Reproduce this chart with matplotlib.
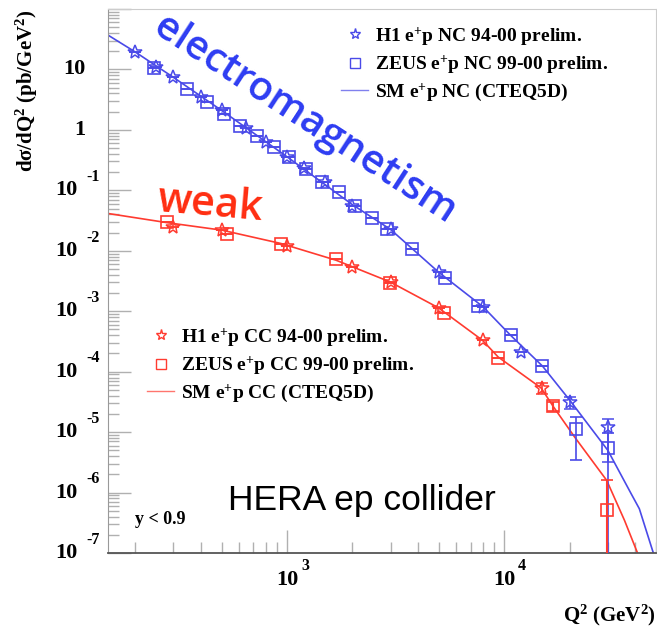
import numpy as np
import matplotlib
matplotlib.use("Agg")
import matplotlib.pyplot as plt
from matplotlib.lines import Line2D
from matplotlib.ticker import LogLocator, NullFormatter

plt.rcParams["mathtext.fontset"] = "custom"
plt.rcParams["mathtext.rm"] = "Liberation Serif:bold"
plt.rcParams["mathtext.bf"] = "Liberation Serif:bold"
plt.rcParams["mathtext.it"] = "Liberation Serif:bold"

# ==============================
# Data
# ==============================
# neutral current, H1 e+p 94-00
h1_nc_q2 = [200, 250, 300, 400, 500, 650, 800, 1000, 1200, 1500, 2000,
            3000, 5000, 8000, 12000, 20000, 30000]
h1_nc_xs = [19.2, 11.0, 7.4, 3.53, 2.13, 1.06, 0.636, 0.359, 0.235, 0.135,
            0.055, 0.0225, 0.00448, 0.00118, 2.12e-4, 3.15e-5, 1.21e-5]
h1_nc_up = [0, 0, 0, 0, 0, 0, 0, 0, 0, 0, 0, 0, 0, 0, 0, 3.77e-5, 1.63e-5]
h1_nc_lo = [0, 0, 0, 0, 0, 0, 0, 0, 0, 0, 0, 0, 0, 0, 0, 2.38e-5, 3.2e-6]

# neutral current, ZEUS e+p 99-00
zeus_nc_q2 = [245, 345, 430, 515, 610, 730, 870, 1020, 1230, 1450, 1730,
              2050, 2460, 2900, 3760, 5330, 7550, 10700, 15000, 21400, 30200]
zeus_nc_xs = [10.7, 4.73, 2.88, 1.81, 1.16, 0.80, 0.525, 0.359, 0.222, 0.138,
              0.0944, 0.055, 0.0343, 0.0225, 0.0109, 0.00361, 0.00122,
              4.0e-4, 1.24e-4, 1.14e-5, 5.5e-6]
zeus_nc_up = [0] * 19 + [1.76e-5, 9.5e-6]
zeus_nc_lo = [0] * 19 + [3.4e-6, 1e-9]

# SM e+p NC (CTEQ5D)
sm_nc_q2 = [150, 200, 300, 500, 1000, 2000, 3000, 5000, 8000, 10700,
            15000, 20000, 30000, 38400, 41900, 48200, 52000]
sm_nc_xs = [37, 19.5, 7.4, 2.1, 0.36, 0.058, 0.0225, 0.0044, 0.00118,
            4.0e-4, 1.24e-4, 3.4e-5, 5.0e-6, 9.6e-7, 5.4e-7, 1.1e-7, 5e-8]

# charged current, H1 e+p 94-00
h1_cc_q2 = [300, 500, 1000, 2000, 3000, 5000, 8000, 15000]
h1_cc_xs = [0.0249, 0.0219, 0.0121, 0.0053, 0.00306, 0.00114, 3.31e-4, 5.37e-5]
h1_cc_up = [0, 0, 0, 0, 0, 0, 0, 6.5e-5]
h1_cc_lo = [0, 0, 0, 0, 0, 0, 0, 4.3e-5]

# charged current, ZEUS e+p 99-00
zeus_cc_q2 = [280, 530, 940, 1680, 2980, 5280, 9380, 16800, 29650]
zeus_cc_xs = [0.0294, 0.0188, 0.0129, 0.00718, 0.00294, 9.5e-4, 1.71e-4,
              2.67e-5, 5.2e-7]
zeus_cc_up = [0, 0, 0, 0, 0, 0, 0, 3.2e-5, 1.59e-6]
zeus_cc_lo = [0, 0, 0, 0, 0, 0, 0, 2.2e-5, 1e-9]

# SM e+p CC (CTEQ5D)
sm_cc_q2 = [150, 277, 503, 938, 1683, 2980, 4980, 7940, 9380, 14800,
            16800, 21100, 29650, 35800, 41200, 44000]
sm_cc_xs = [0.0414, 0.0294, 0.0219, 0.0132, 0.00698, 0.00306, 0.00114,
            3.31e-4, 1.75e-4, 5.37e-5, 2.67e-5, 8.3e-6, 1.59e-6, 3.47e-7,
            9.8e-8, 3e-8]

y_decades = [-7, -6, -5, -4, -3, -2, -1, 0, 1]
x_decades = [3, 4]

blue = "#4a4ae8"
red = "#ff3b30"
serif = "Liberation Serif"


def err_pair(xs, up, lo):
    hi = [u - v if u > 0 else 0 for v, u in zip(xs, up)]
    lw = [v - l if l > 0 else 0 for v, l in zip(xs, lo)]
    return [lw, hi]


# ==============================
# Figure
# ==============================
fig = plt.figure(figsize=(6.57, 6.28), dpi=100)
ax = fig.add_axes([108 / 657, 75 / 628, 548 / 657, 544 / 628])

ax.plot(sm_nc_q2, sm_nc_xs, color=blue, lw=1.2, zorder=2)
ax.plot(sm_cc_q2, sm_cc_xs, color=red, lw=1.2, zorder=2)

ax.errorbar(zeus_nc_q2, zeus_nc_xs,
            yerr=err_pair(zeus_nc_xs, zeus_nc_up, zeus_nc_lo),
            fmt="s", ms=8, mfc="none", mec=blue, ecolor=blue, mew=1.2,
            elinewidth=1.2, capsize=4, zorder=3)
ax.errorbar(h1_nc_q2, h1_nc_xs,
            yerr=err_pair(h1_nc_xs, h1_nc_up, h1_nc_lo),
            fmt="*", ms=10, mfc="none", mec=blue, ecolor=blue, mew=1.1,
            elinewidth=1.2, capsize=4, zorder=3)
ax.errorbar(zeus_cc_q2, zeus_cc_xs,
            yerr=err_pair(zeus_cc_xs, zeus_cc_up, zeus_cc_lo),
            fmt="s", ms=8, mfc="none", mec=red, ecolor=red, mew=1.2,
            elinewidth=1.5, capsize=4, zorder=3)
ax.errorbar(h1_cc_q2, h1_cc_xs,
            yerr=err_pair(h1_cc_xs, h1_cc_up, h1_cc_lo),
            fmt="*", ms=10, mfc="none", mec=red, ecolor=red, mew=1.1,
            elinewidth=1.2, capsize=4, zorder=3)

ax.set_xscale("log")
ax.set_yscale("log")
ax.set_xlim(150, 50000)
ax.set_ylim(1e-7, 1e2)

for a in (ax.xaxis, ax.yaxis):
    a.set_major_locator(LogLocator(base=10, numticks=100))
    a.set_minor_locator(LogLocator(base=10, subs=np.arange(2, 10), numticks=100))
    a.set_minor_formatter(NullFormatter())
ax.tick_params(which="both", direction="in", colors="#b0b0b0",
               labelleft=False, labelbottom=False)
ax.tick_params(which="major", length=16.5, width=1)
ax.tick_params(which="minor", length=8, width=1)

ax.spines["top"].set_color("#cccccc")
ax.spines["right"].set_color("#cccccc")
ax.spines["left"].set_color("#999999")
ax.spines["bottom"].set_color("#555555")
ax.spines["bottom"].set_linewidth(1.3)

# tick labels, ROOT style
for e in y_decades:
    if e == 1:
        ax.annotate("10", (0, 10.0 ** e), xycoords=("axes fraction", "data"),
                    xytext=(-24, 0), textcoords="offset points",
                    ha="center", va="center", fontsize=16,
                    family=serif, weight="bold")
    elif e == 0:
        ax.annotate("1", (0, 10.0 ** e), xycoords=("axes fraction", "data"),
                    xytext=(-20, 0), textcoords="offset points",
                    ha="center", va="center", fontsize=16,
                    family=serif, weight="bold")
    else:
        ax.annotate("10", (0, 10.0 ** e), xycoords=("axes fraction", "data"),
                    xytext=(-30, 0), textcoords="offset points",
                    ha="center", va="center", fontsize=16,
                    family=serif, weight="bold")
        ax.annotate(str(e), (0, 10.0 ** e), xycoords=("axes fraction", "data"),
                    xytext=(-11, 9.5), textcoords="offset points",
                    ha="center", va="center", fontsize=11.5,
                    family=serif, weight="bold")

for e in x_decades:
    ax.annotate("10", (10.0 ** e, 0), xycoords=("data", "axes fraction"),
                xytext=(0, -19.5), textcoords="offset points",
                ha="center", va="center", fontsize=16,
                family=serif, weight="bold")
    ax.annotate(str(e), (10.0 ** e, 0), xycoords=("data", "axes fraction"),
                xytext=(13, -9.5), textcoords="offset points",
                ha="center", va="center", fontsize=11.5,
                family=serif, weight="bold")

fig.text(27 / 657, 1 - 10 / 628, r"dσ/dQ$^{2}$ (pb/GeV$^{2}$)", rotation=90,
         ha="center", va="top", fontsize=15, family=serif, weight="bold")
fig.text(0.999, 1 - 615 / 628, r"Q$^{2}$ (GeV$^{2}$)", ha="right",
         va="center", fontsize=15, family=serif, weight="bold")

# legends
nc_handles = [
    Line2D([], [], marker="*", ls="none", mfc="none", mec=blue, ms=8),
    Line2D([], [], marker="s", ls="none", mfc="none", mec=blue, ms=6.5),
    Line2D([], [], color=blue, lw=1, alpha=0.7),
]
nc_labels = [r"H1 e$^{+}$p NC 94-00 prelim.",
             r"ZEUS e$^{+}$p NC 99-00 prelim.",
             r"SM e$^{+}$p NC (CTEQ5D)"]
cc_handles = [
    Line2D([], [], marker="*", ls="none", mfc="none", mec=red, ms=8),
    Line2D([], [], marker="s", ls="none", mfc="none", mec=red, ms=6.5),
    Line2D([], [], color=red, lw=1, alpha=0.7),
]
cc_labels = [r"H1 e$^{+}$p CC 94-00 prelim.",
             r"ZEUS e$^{+}$p CC 99-00 prelim.",
             r"SM e$^{+}$p CC (CTEQ5D)"]

leg_props = dict(family=serif, weight="bold", size=14)
leg_opts = dict(loc="upper left", frameon=False, prop=leg_props,
                handlelength=1.4, handletextpad=0.35, labelspacing=0.28,
                borderpad=0, borderaxespad=0)
leg1 = ax.legend(nc_handles, nc_labels,
                 bbox_to_anchor=((341 - 108) / 548, 1 - (25 - 9) / 544),
                 **leg_opts)
ax.add_artist(leg1)
ax.legend(cc_handles, cc_labels,
          bbox_to_anchor=((147 - 108) / 548, 1 - (326 - 9) / 544),
          **leg_opts)

# annotations
ax.text(0.359, 0.796, "electromagnetism", transform=ax.transAxes,
        rotation=-33, rotation_mode="anchor", ha="center", va="center",
        fontsize=29, color="#2d3cf2", family="Open Sans", weight="semibold")
ax.text(0.186, 0.640, "weak", transform=ax.transAxes, rotation=-5,
        rotation_mode="anchor", ha="center", va="center",
        fontsize=30, color="#ff2d10", family="Open Sans", weight="semibold")
ax.text(0.219, 0.079, "HERA ep collider", transform=ax.transAxes,
        ha="left", va="baseline", fontsize=25.5, color="black",
        family="Liberation Sans")
ax.text(0.049, 0.061, "y < 0.9", transform=ax.transAxes, ha="left",
        va="center", fontsize=13, family=serif, weight="bold")

fig.savefig("out.png", dpi=100)
